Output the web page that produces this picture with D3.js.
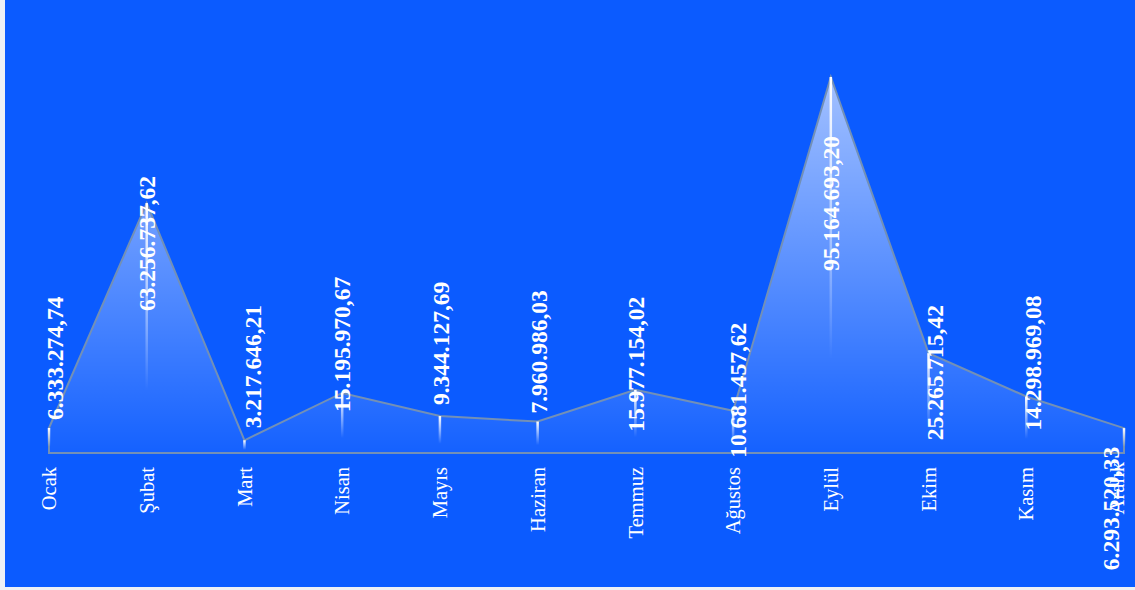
<!DOCTYPE html>
<html>
<head>
<meta charset="utf-8">
<script src="https://cdn.jsdelivr.net/npm/d3@7"></script>
<style>
  html, body { margin: 0; padding: 0; background: #eef1f6; }
  svg { display: block; }
</style>
</head>
<body>
<svg id="chart" width="1135" height="590"></svg>
<script>
// ---- data ----
const months = ["Ocak", "Şubat", "Mart", "Nisan", "Mayıs", "Haziran", "Temmuz", "Ağustos", "Eylül", "Ekim", "Kasım", "Aralık"];
const values = [6333274.74, 63256737.62, 3217646.21, 15195970.67, 9344127.69, 7960986.03, 15977154.02, 10681457.62, 95164693.20, 25265715.42, 14298969.08, 6293520.33];
const valueLabels = ["6.333.274,74", "63.256.737,62", "3.217.646,21", "15.195.970,67", "9.344.127,69", "7.960.986,03", "15.977.154,02", "10.681.457,62", "95.164.693,20", "25.265.715,42", "14.298.969,08", "6.293.520,33"];

// ---- label layout nudges (px, relative to each point) ----
const labelDx = [6, 0, 8, 0, 1, 1, 0, 5, 0, 6, 6, -13];
const labelDy = [-8, 108, -12, 19, -11, -8, 42, 47, 194, 87, 34, 142];

const W = 1135, H = 590;
const svg = d3.select("#chart");

svg.append("rect").attr("x", 5).attr("y", 0).attr("width", W - 5).attr("height", 587).attr("fill", "#0b5bff");

const x = d3.scalePoint().domain(months).range([49, 1124]);
const y = d3.scaleLinear().domain([0, d3.max(values)]).range([453, 77]);

const defs = svg.append("defs");
const areaGrad = defs.append("linearGradient").attr("id", "areaGrad").attr("x1", 0).attr("y1", 0).attr("x2", 0).attr("y2", 1);
areaGrad.append("stop").attr("offset", "0%").attr("stop-color", "#ffffff").attr("stop-opacity", 0.62);
areaGrad.append("stop").attr("offset", "100%").attr("stop-color", "#ffffff").attr("stop-opacity", 0.04);

const barGrad = defs.append("linearGradient").attr("id", "barGrad").attr("x1", 0).attr("y1", 0).attr("x2", 0).attr("y2", 1);
barGrad.append("stop").attr("offset", "0%").attr("stop-color", "#ffffff").attr("stop-opacity", 1);
barGrad.append("stop").attr("offset", "75%").attr("stop-color", "#ffffff").attr("stop-opacity", 0);

const data = months.map((m, i) => ({ m, v: values[i], label: valueLabels[i], i }));

const area = d3.area().x(d => x(d.m)).y0(y(0)).y1(d => y(d.v));

// closed polygon outline (including baseline)
svg.append("path")
  .datum(data)
  .attr("d", area)
  .attr("fill", "url(#areaGrad)")
  .attr("stroke", "#7390b6")
  .attr("stroke-width", 2)
  .attr("stroke-linejoin", "miter");

// markers: thin gradient bars from the point down to zero
svg.append("g").selectAll("rect")
  .data(data)
  .join("rect")
  .attr("x", d => x(d.m) - 1.25)
  .attr("y", d => y(d.v))
  .attr("width", 2.5)
  .attr("height", d => y(0) - y(d.v))
  .attr("fill", "url(#barGrad)");

// value labels
svg.append("g").selectAll("text")
  .data(data)
  .join("text")
  .attr("transform", d => `translate(${x(d.m) + labelDx[d.i]},${y(d.v) + labelDy[d.i]}) rotate(-90)`)
  .attr("dy", "0.35em")
  .attr("text-anchor", "start")
  .attr("font-family", "'Liberation Serif', 'Times New Roman', serif")
  .attr("font-weight", "bold")
  .attr("font-size", "23.5px")
  .attr("fill", "#ffffff")
  .text(d => d.label);

// category labels
svg.append("g").selectAll("text")
  .data(data)
  .join("text")
  .attr("transform", d => {
    const last = d.i === months.length - 1;
    return `translate(${x(d.m) - (last ? 7 : 0)},${last ? 462 : 467}) rotate(-90)`;
  })
  .attr("dy", "0.35em")
  .attr("text-anchor", "end")
  .attr("font-family", "'Liberation Serif', 'Times New Roman', serif")
  .attr("font-size", "20.5px")
  .attr("fill", "#ffffff")
  .text(d => d.m);
</script>
</body>
</html>
